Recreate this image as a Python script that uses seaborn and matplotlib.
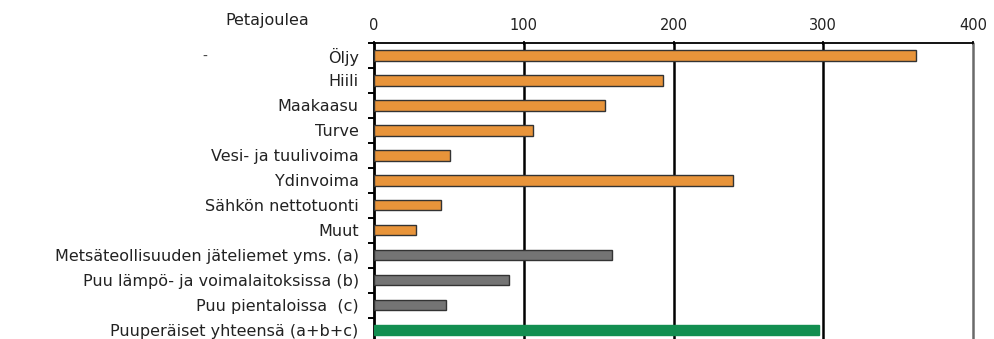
import matplotlib
matplotlib.use("Agg")
import matplotlib.pyplot as plt
import seaborn as sns
import pandas as pd
import numpy as np

categories = [
    "Öljy", "Hiili", "Maakaasu", "Turve", "Vesi- ja tuulivoima", "Ydinvoima",
    "Sähkön nettotuonti", "Muut", "Metsäteollisuuden jäteliemet yms. (a)",
    "Puu lämpö- ja voimalaitoksissa (b)", "Puu pientaloissa  (c)",
    "Puuperäiset yhteensä (a+b+c)",
]
values = [362, 193, 154, 106, 51, 240, 45, 28, 159, 90, 48, 297]
groups = ["fossiili"] * 8 + ["puu"] * 3 + ["yhteensä"]
xticks = [0, 100, 200, 300, 400]

colors = {"fossiili": "#E8943A", "puu": "#747474", "yhteensä": "#128E50"}

df = pd.DataFrame({"kategoria": categories, "PJ": values, "ryhmä": groups})

sns.set_theme(style="white")
plt.rcParams["font.family"] = ["DejaVu Sans"]

fig = plt.figure(figsize=(9.95, 3.39), dpi=100)
ax = fig.add_axes([374 / 995, 0.0, (973 - 374) / 995, (339 - 43) / 339])

sns.barplot(data=df, x="PJ", y="kategoria", hue="ryhmä", palette=colors,
            order=categories, dodge=False, width=0.42, legend=False, ax=ax,
            saturation=1, edgecolor="#333333", linewidth=1.0, zorder=3)
for patch in ax.patches:
    if patch.get_facecolor()[:3] == matplotlib.colors.to_rgb(colors["yhteensä"]):
        patch.set_edgecolor(colors["yhteensä"])

ax.set_xlim(0, 400)
ax.set_ylim(11.36, -0.5)
ax.set_xlabel("")
ax.set_ylabel("")

# Value scale on top with vertical gridlines
ax.xaxis.tick_top()
ax.set_xticks(xticks)
ax.set_xticklabels([str(v) for v in xticks], fontsize=10.5, color="#222222")
ax.tick_params(axis="x", which="major", length=3, width=1.2, color="black",
               direction="inout", pad=6, top=True, bottom=False)
for v in xticks[1:]:
    ax.axvline(v, color="black" if v < 400 else "#6a6a6a", lw=1.8, zorder=1,
               clip_on=False)

# Category labels centred on bars, tick marks between categories
ax.set_yticks(range(len(categories)))
ax.set_yticklabels(categories, fontsize=11.5, color="#222222")
ax.tick_params(axis="y", which="major", length=0, pad=11)
ax.set_yticks(np.arange(-0.5, len(categories) - 0.5, 1.0), minor=True)
ax.tick_params(axis="y", which="minor", length=4, width=1.4, color="black",
               direction="out", left=True)

for side in ["right", "bottom"]:
    ax.spines[side].set_visible(False)
ax.spines["left"].set_linewidth(2.0)
ax.spines["left"].set_color("black")
ax.spines["top"].set_linewidth(1.3)
ax.spines["top"].set_color("black")

fig.text(267 / 995, 1 - 20 / 339, "Petajoulea", fontsize=11.5, ha="center",
         va="center", color="#222222")
fig.text(205 / 995, 1 - 57 / 339, "-", fontsize=10, ha="center", va="center",
         color="#444444")

fig.savefig("out.png", dpi=100)
